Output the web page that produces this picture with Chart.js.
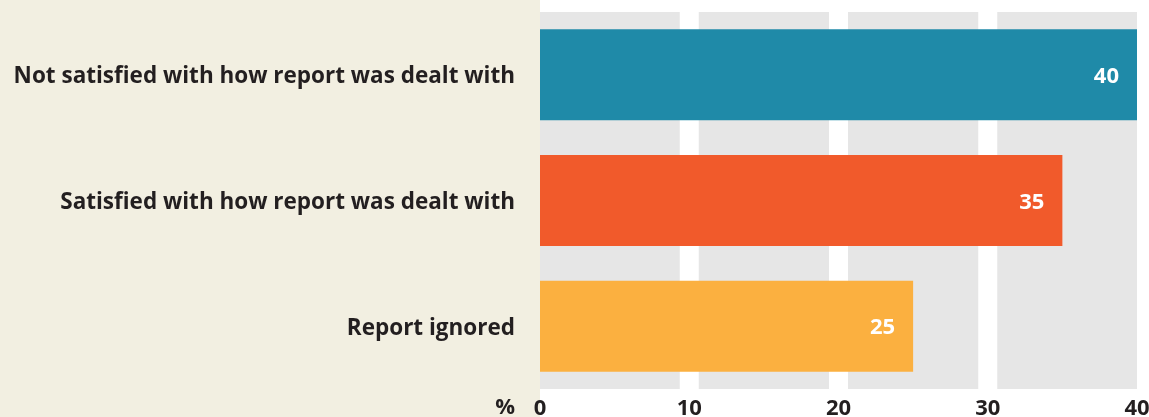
<!DOCTYPE html>
<html>
<head>
<meta charset="utf-8">
<script src="https://cdn.jsdelivr.net/npm/chart.js@4.4.1/dist/chart.umd.min.js"></script>
<style>
    html, body { margin: 0; padding: 0; background: #ffffff; }
    #wrap { width: 1149px; height: 417px; position: relative; }
</style>
</head>
<body>
<div id="wrap"><canvas id="reportChart"></canvas></div>
<script>
// Responses to a report
const categories = [
    'Not satisfied with how report was dealt with',
    'Satisfied with how report was dealt with',
    'Report ignored'
];
const shares = [40, 35, 25];
const barColors = ['#1f8aa8', '#f15a2b', '#fbb040'];
const xTicks = [0, 10, 20, 30, 40];
const unitLabel = '%';

const FONT = "'Open Sans', 'Noto Sans', sans-serif";
const TEXT_DARK = '#231f20';

// Beige label panel, grey plot area and the white gaps at the inner ticks
const backdrop = {
    id: 'backdrop',
    beforeDraw(chart) {
        const { ctx, chartArea, scales } = chart;
        ctx.save();
        ctx.fillStyle = '#f2efe1';
        ctx.fillRect(0, 0, scales.y.right, chart.height);
        ctx.fillStyle = '#e6e6e6';
        ctx.fillRect(chartArea.left, chartArea.top, chartArea.right - chartArea.left, chartArea.bottom - chartArea.top);
        ctx.fillStyle = '#ffffff';
        xTicks.slice(1, -1).forEach(v => {
            const px = scales.x.getPixelForValue(v);
            ctx.fillRect(px - 9.5, chartArea.top, 19, chartArea.bottom - chartArea.top);
        });
        ctx.restore();
    }
};

// White value labels inside bar ends, plus the unit under the category labels
const barLabels = {
    id: 'barLabels',
    afterDatasetsDraw(chart) {
        const { ctx } = chart;
        const meta = chart.getDatasetMeta(0);
        ctx.save();
        ctx.font = `bold 22px ${FONT}`;
        ctx.fillStyle = '#ffffff';
        ctx.textAlign = 'right';
        ctx.textBaseline = 'middle';
        meta.data.forEach((bar, i) => {
            ctx.fillText(String(shares[i]), bar.x - 18, bar.y + 2);
        });
        ctx.restore();
    },
    afterDraw(chart) {
        const { ctx, scales } = chart;
        ctx.save();
        ctx.font = `bold 22px ${FONT}`;
        ctx.fillStyle = TEXT_DARK;
        ctx.textAlign = 'right';
        ctx.textBaseline = 'middle';
        ctx.fillText(unitLabel, scales.y.right - 25, scales.x.top + 19);
        ctx.restore();
    }
};

new Chart(document.getElementById('reportChart'), {
    type: 'bar',
    data: {
        labels: categories,
        datasets: [{
            data: shares,
            backgroundColor: barColors,
            borderWidth: 0,
            inflateAmount: 0,
            categoryPercentage: 1,
            barPercentage: 0.724
        }]
    },
    options: {
        indexAxis: 'y',
        responsive: true,
        maintainAspectRatio: false,
        animation: false,
        layout: { padding: { top: 12, right: 12, left: 0, bottom: 0 } },
        plugins: {
            legend: { display: false },
            tooltip: { enabled: false }
        },
        scales: {
            x: {
                min: 0,
                max: 40,
                afterBuildTicks: (scale) => { scale.ticks = xTicks.map(v => ({ value: v })); },
                afterFit: (scale) => {
                    scale.height = 28;
                    scale.paddingLeft = 0;
                    scale.paddingRight = 0;
                },
                border: { display: false },
                grid: { display: false, drawTicks: false },
                ticks: {
                    padding: 7,
                    maxRotation: 0,
                    color: TEXT_DARK,
                    font: { family: FONT, size: 22, weight: 'bold' }
                }
            },
            y: {
                afterFit: (scale) => {
                    scale.width = 540;
                    scale.paddingTop = 0;
                    scale.paddingBottom = 0;
                },
                border: { display: false },
                grid: { display: false, drawTicks: false },
                ticks: {
                    padding: 25,
                    labelOffset: 2,
                    color: TEXT_DARK,
                    font: { family: FONT, size: 22.5, weight: 'bold' }
                }
            }
        }
    },
    plugins: [backdrop, barLabels]
});
</script>
</body>
</html>
